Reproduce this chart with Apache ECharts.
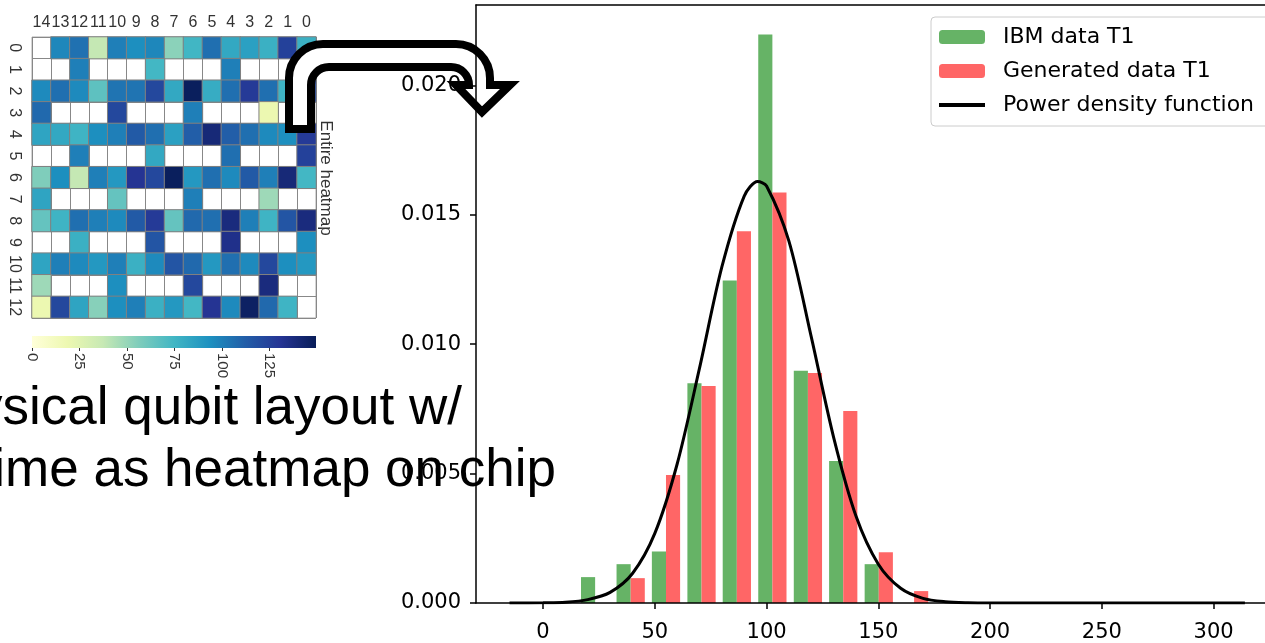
<!DOCTYPE html>
<html>
<head>
<meta charset="utf-8">
<script src="https://cdn.jsdelivr.net/npm/echarts@6/dist/echarts.min.js"></script>
<style>
  html, body { margin: 0; padding: 0; background: #fff; }
  #main { width: 1265px; height: 643px; }
</style>
</head>
<body>
<div id="main"></div>
<script>
// heatmap inset: T1 per physical qubit (blank = no qubit)
var colLabels = ['14','13','12','11','10','9','8','7','6','5','4','3','2','1','0'];
var rowLabels = ['0','1','2','3','4','5','6','7','8','9','10','11','12'];
var t1Rows = [
  [null, 97, 105, 38, 100, 94, 97, 53, 75, 106, 82, 86, 78, 125, 78],
  [null, null, 100, null, null, null, 74, null, null, null, 100, null, null, null, 122],
  [96, 106, 96, 66, 104, 104, 122, 82, 148, 80, 106, 128, 106, 76, 122],
  [108, null, null, null, 122, null, null, null, 100, null, null, null, 19, null, null],
  [84, 82, 76, 94, 100, 114, 106, 86, 112, 140, 112, 106, 96, 94, 128],
  [null, null, 100, null, null, null, 82, null, null, null, 106, null, null, null, 125],
  [56, 94, 38, 100, 90, 131, 122, 148, 90, 106, 96, 114, 100, 140, 74],
  [84, null, null, null, 64, null, null, null, 100, null, null, null, 48, null, null],
  [64, 76, 106, 100, 96, 114, 128, 64, 108, 106, 138, 100, 76, 116, 138],
  [null, null, 78, null, null, null, 116, null, null, null, 134, null, null, null, 94],
  [84, 100, 96, 90, 100, 78, 96, 116, 108, 90, 106, 96, 122, 94, 90],
  [48, null, null, null, 94, null, null, null, 122, null, null, null, 138, null, null],
  [19, 122, 84, 54, 94, 100, 78, 90, 74, 131, 96, 146, 108, 76, null]
];
var cbarTicks = [0, 25, 50, 75, 100, 125];
var cbarMax = 149.5;
var ylgnbu = ['#ffffd9','#edf8b1','#c7e9b4','#7fcdbb','#41b6c4','#1d91c0','#225ea8','#253494','#081d58'];

// histogram (density) of T1
var binCenters = [23.3, 39.2, 55.0, 70.9, 86.7, 102.6, 118.5, 134.3, 150.2, 166.0];
var ibmT1 = [0.00100, 0.00150, 0.00199, 0.00849, 0.01246, 0.02196, 0.00897, 0.00549, 0.00150, 0];
var genT1 = [0, 0.00096, 0.00494, 0.00838, 0.01436, 0.01586, 0.00888, 0.00742, 0.00196, 0.00046];
// fitted curve
var pdfX = [-15, 0, 10, 20, 30, 40, 50, 60, 70, 80, 90, 96, 100, 110, 120, 130, 140, 150, 160, 170, 180, 190, 200, 314];
var pdfY = [0, 0.00001, 0.00003, 0.00013, 0.00041, 0.00114, 0.00269, 0.00537, 0.00907, 0.01298, 0.01572, 0.01628,
            0.01611, 0.01398, 0.01028, 0.0064, 0.00336, 0.0015, 0.00057, 0.00018, 0.00005, 0.00001, 0, 0];
var xTicks = [0, 50, 100, 150, 200, 250, 300];
var yTicks = [0, 0.005, 0.010, 0.015, 0.020];

var cells = [];
t1Rows.forEach(function (row, r) {
  row.forEach(function (v, c) {
    if (v != null) cells.push([c, r, v]);
  });
});

// the U-turn arrow from the heatmap to the histogram
echarts.graphic.registerShape('uArrow', echarts.graphic.extendShape({
  shape: {},
  buildPath: function (ctx) {
    var P = Math.PI;
    ctx.moveTo(289, 129);
    ctx.lineTo(289, 78);
    ctx.arc(323, 78, 34, P, 1.5 * P, false);
    ctx.lineTo(456, 44);
    ctx.arc(456, 78, 34, 1.5 * P, 2 * P, false);
    ctx.lineTo(490, 85);
    ctx.lineTo(510, 85);
    ctx.lineTo(482, 112);
    ctx.lineTo(456, 85);
    ctx.lineTo(469, 85);
    ctx.arc(451, 85, 18, 0, -0.5 * P, true);
    ctx.lineTo(329, 67);
    ctx.arc(329, 85, 18, -0.5 * P, -P, true);
    ctx.lineTo(311, 129);
    ctx.closePath();
  }
}));

var chart = echarts.init(document.getElementById('main'), null, { renderer: 'canvas' });
var mainFont = 'DejaVu Sans';
var insetFont = 'Liberation Sans';
var spine = { color: '#000', width: 1.5 };

chart.setOption({
  animation: false,
  backgroundColor: '#fff',
  grid: [
    { left: 476, top: 5, right: 0, bottom: 38 },
    { left: 32, top: 37, width: 284, height: 281, show: true, borderColor: '#aaa', borderWidth: 1 },
    { left: 32, top: 336, width: 284, height: 12 }
  ],
  xAxis: [
    {
      gridIndex: 0, type: 'value', min: -30, max: 323, z: 20,
      axisLine: { onZero: false, lineStyle: spine },
      axisTick: { customValues: xTicks, length: 6, lineStyle: spine },
      axisLabel: { customValues: xTicks, color: '#000', fontSize: 21, fontFamily: mainFont, margin: 19 },
      splitLine: { show: false }
    },
    {
      gridIndex: 1, type: 'category', data: colLabels, position: 'top',
      axisLine: { show: false }, axisTick: { show: false },
      axisLabel: { color: '#333', fontSize: 16, fontFamily: insetFont, margin: 6, interval: 0 },
      splitLine: { show: true, interval: 0, lineStyle: { color: '#888', width: 1 } }
    },
    {
      gridIndex: 2, type: 'value', min: 0, max: cbarMax,
      axisLine: { show: false },
      axisTick: { customValues: cbarTicks, length: 3, lineStyle: { color: '#333' } },
      axisLabel: { customValues: cbarTicks, rotate: -90, color: '#333', fontSize: 15, fontFamily: insetFont, margin: 5 },
      splitLine: { show: false }
    },
    {
      // top spine of the histogram
      gridIndex: 0, type: 'value', position: 'top', min: -30, max: 323, z: 20,
      axisLine: { onZero: false, lineStyle: spine },
      axisTick: { show: false }, axisLabel: { show: false }, splitLine: { show: false }
    }
  ],
  yAxis: [
    {
      gridIndex: 0, type: 'value', min: 0, max: 0.0231, z: 20,
      axisLine: { show: true, onZero: false, lineStyle: spine },
      axisTick: { show: true, customValues: yTicks, length: 6, lineStyle: spine },
      axisLabel: {
        customValues: yTicks, color: '#000', fontSize: 21, fontFamily: mainFont, margin: 15,
        formatter: function (v) { return v.toFixed(3); }
      },
      splitLine: { show: false }
    },
    {
      gridIndex: 1, type: 'category', data: rowLabels, inverse: true,
      axisLine: { show: false }, axisTick: { show: false },
      axisLabel: { rotate: -90, color: '#333', fontSize: 16, fontFamily: insetFont, margin: 10, interval: 0 },
      splitLine: { show: true, interval: 0, lineStyle: { color: '#888', width: 1 } }
    },
    {
      gridIndex: 2, type: 'value', show: false
    }
  ],
  visualMap: {
    show: false, type: 'continuous', min: 0, max: cbarMax, seriesIndex: 0,
    inRange: { color: ylgnbu }
  },
  legend: {
    orient: 'vertical', left: 931, top: 17,
    data: [
      { name: 'IBM data T1' },
      { name: 'Generated data T1' },
      { name: 'Power density function', icon: 'path://M0,0H46V4H0Z' }
    ],
    itemWidth: 46, itemHeight: 14, itemGap: 12,
    padding: [9, 30, 10, 8],
    backgroundColor: '#fff', borderColor: '#ccc', borderWidth: 1, borderRadius: 4,
    textStyle: { color: '#000', fontSize: 22, fontFamily: mainFont, padding: [0, 0, 0, 13] }
  },
  series: [
    {
      type: 'heatmap', xAxisIndex: 1, yAxisIndex: 1, data: cells, z: 1,
      itemStyle: { borderColor: '#808080', borderWidth: 1 }
    },
    {
      name: 'IBM data T1', type: 'bar', xAxisIndex: 0, yAxisIndex: 0,
      data: binCenters.map(function (c, i) { return [c, ibmT1[i]]; }),
      barWidth: '40%', barGap: '0%',
      itemStyle: { color: '#66b366' }
    },
    {
      name: 'Generated data T1', type: 'bar', xAxisIndex: 0, yAxisIndex: 0,
      data: binCenters.map(function (c, i) { return [c, genT1[i]]; }),
      barWidth: '40%', barGap: '0%',
      itemStyle: { color: '#ff6666' }
    },
    {
      name: 'Power density function', type: 'line', xAxisIndex: 0, yAxisIndex: 0,
      data: pdfX.map(function (x, i) { return [x, pdfY[i]]; }),
      smooth: 0.3, symbol: 'none', z: 5,
      lineStyle: { color: '#000', width: 3 }, itemStyle: { color: '#000' }
    }
  ],
  graphic: [
    {
      type: 'rect', x: 32, y: 336, z: 1,
      shape: { x: 0, y: 0, width: 284, height: 12 },
      style: {
        fill: new echarts.graphic.LinearGradient(0, 0, 1, 0, ylgnbu.map(function (c, i) {
          return { offset: i / (ylgnbu.length - 1), color: c };
        }))
      }
    },
    {
      type: 'text', x: 326, y: 178, rotation: -Math.PI / 2, z: 1,
      style: { text: 'Entire heatmap', fill: '#333', font: '17px "Liberation Sans"', textAlign: 'center', textVerticalAlign: 'middle' }
    },
    {
      type: 'uArrow', z: 2,
      style: { fill: '#fff', stroke: '#000', lineWidth: 8, lineJoin: 'miter' }
    },
    {
      type: 'text', x: 462, y: 409, z: 1,
      style: { text: 'Physical qubit layout w/', fill: '#000', font: '53px "Liberation Sans"', textAlign: 'right', textVerticalAlign: 'middle' }
    },
    {
      type: 'text', x: 556, y: 471, z: 1,
      style: { text: 'time as heatmap on chip', fill: '#000', font: '53px "Liberation Sans"', textAlign: 'right', textVerticalAlign: 'middle' }
    }
  ]
});
</script>
</body>
</html>
